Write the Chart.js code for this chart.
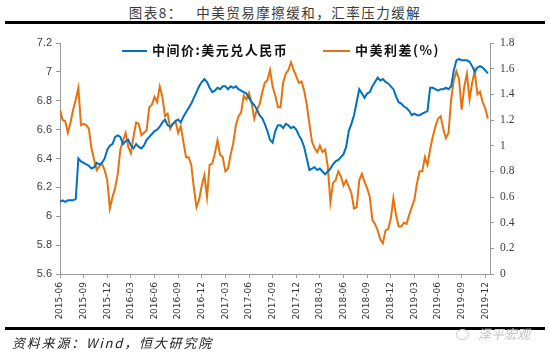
<!DOCTYPE html>
<html>
<head>
<meta charset="utf-8">
<script src="https://cdn.jsdelivr.net/npm/chart.js@4.4.1/dist/chart.umd.min.js"></script>
<style>
  html, body { margin: 0; padding: 0; background: #fff; }
  body { width: 550px; height: 359px; position: relative; overflow: hidden; font-family: "Noto Sans CJK SC", sans-serif; }
  #title { position: absolute; left: 0; width: 550px; top: 3px; text-align: center; font-size: 13.5px; color: #3a3a3a; letter-spacing: 1.5px; line-height: 18px; white-space: pre; }
  .rule { position: absolute; left: 5px; width: 540px; background: #000; }
  #wrap { position: absolute; left: 0; top: 0; width: 550px; height: 330px; }
  .lg-line { position: absolute; height: 2px; }
  .lg-text { position: absolute; font-size: 13px; font-weight: bold; color: #111; line-height: 16px; letter-spacing: 1.5px; white-space: nowrap; }
  #src { position: absolute; left: 12px; top: 334px; font-size: 13px; font-style: italic; color: #222; letter-spacing: 1.8px; white-space: nowrap; line-height: 18px; }
  #wm { position: absolute; left: 478px; top: 325px; font-size: 13px; color: #c4c4c4; white-space: nowrap; font-style: italic; line-height: 18px; }
  #wmicon { position: absolute; left: 456px; top: 329px; width: 11px; height: 9px; border: 1.5px solid #d0d0d0; border-radius: 50%; }
</style>
</head>
<body>
<div id="title">图表8：   中美贸易摩擦缓和，汇率压力缓解</div>
<div class="rule" style="top:21px;height:3px"></div>
<div id="wrap"><canvas id="c"></canvas></div>
<div class="lg-line" style="left:122px;top:50px;width:25px;background:#0070C0"></div>
<div class="lg-text" style="left:152px;top:42px">中间价:美元兑人民币</div>
<div class="lg-line" style="left:323px;top:50px;width:27px;background:#E8720C"></div>
<div class="lg-text" style="left:355px;top:42px">中美利差(%)</div>
<div class="rule" style="top:327px;height:3px"></div>
<div id="src">资料来源：Wind，恒大研究院</div>
<div id="wmicon"></div>
<div id="wm">泽平宏观</div>
<script>
// x tick labels (quarterly), x positions are months since 2015-06
const xTickLabels = ['2015-06','2015-09','2015-12','2016-03','2016-06','2016-09','2016-12','2017-03','2017-06','2017-09','2017-12','2018-03','2018-06','2018-09','2018-12','2019-03','2019-06','2019-09','2019-12'];
const leftTicks = [5.6, 5.8, 6, 6.2, 6.4, 6.6, 6.8, 7, 7.2];
const rightTicks = [0, 0.2, 0.4, 0.6, 0.8, 1, 1.2, 1.4, 1.6, 1.8];
const sampleStepMonths = 1 / 3; // one reading every third of a month

// 中间价:美元兑人民币
const usdcny = [
6.10,6.11,6.10,6.11,6.11,6.11,6.12,6.40,6.38,6.37,
6.36,6.35,6.33,6.34,6.37,6.36,6.37,6.40,6.46,6.49,
6.50,6.55,6.56,6.55,6.50,6.52,6.53,6.49,6.47,6.50,
6.48,6.47,6.49,6.53,6.55,6.57,6.59,6.60,6.62,6.65,
6.67,6.63,6.62,6.64,6.66,6.67,6.65,6.69,6.72,6.75,
6.78,6.82,6.86,6.90,6.93,6.95,6.93,6.89,6.86,6.87,
6.89,6.88,6.90,6.90,6.88,6.90,6.89,6.90,6.88,6.87,
6.86,6.85,6.82,6.79,6.77,6.74,6.70,6.68,6.64,6.59,
6.53,6.51,6.59,6.63,6.63,6.61,6.64,6.63,6.61,6.62,
6.60,6.56,6.53,6.48,6.40,6.32,6.33,6.34,6.32,6.33,
6.31,6.29,6.31,6.33,6.36,6.38,6.39,6.41,6.43,6.48,
6.59,6.64,6.70,6.79,6.88,6.85,6.82,6.85,6.86,6.90,
6.93,6.96,6.94,6.95,6.93,6.92,6.90,6.88,6.83,6.79,
6.78,6.76,6.75,6.73,6.70,6.71,6.70,6.70,6.71,6.72,
6.73,6.89,6.89,6.88,6.87,6.88,6.88,6.89,6.88,6.90,
7.01,7.08,7.09,7.08,7.08,7.08,7.07,7.04,7.00,7.03,
7.04,7.03,7.01,6.99
];

// 中美利差(%)
const spread = [
1.28,1.20,1.19,1.10,1.18,1.28,1.36,1.45,1.16,1.17,
1.16,1.13,0.98,0.89,0.81,0.84,0.86,0.81,0.73,0.51,
0.60,0.67,0.78,0.97,1.04,1.10,0.99,0.94,1.07,1.18,
1.17,1.08,1.10,1.12,1.30,1.32,1.38,1.34,1.46,1.38,
1.23,1.25,1.13,1.17,1.19,1.10,1.15,1.03,0.91,0.91,
0.85,0.67,0.52,0.58,0.69,0.77,0.60,0.85,0.86,0.94,
1.04,0.93,0.91,0.80,0.82,0.93,1.02,1.16,1.23,1.26,
1.39,1.36,1.41,1.33,1.21,1.28,1.32,1.41,1.49,1.51,
1.59,1.46,1.39,1.30,1.30,1.49,1.56,1.59,1.65,1.59,
1.54,1.49,1.50,1.43,1.32,1.17,1.03,0.98,0.95,1.00,
0.95,0.97,0.84,0.56,0.71,0.73,0.80,0.76,0.69,0.73,
0.68,0.63,0.51,0.52,0.73,0.78,0.72,0.67,0.60,0.42,
0.39,0.34,0.27,0.24,0.34,0.35,0.43,0.59,0.46,0.37,
0.37,0.40,0.39,0.46,0.52,0.58,0.71,0.80,0.80,0.91,
0.85,0.97,1.07,1.15,1.21,1.23,1.13,1.06,1.10,1.36,
1.51,1.58,1.52,1.28,1.46,1.56,1.36,1.49,1.58,1.40,
1.42,1.34,1.29,1.21
];

const toPoints = arr => arr.map((v, i) => ({ x: i * sampleStepMonths, y: v }));

const axisGray = '#9a9a9a';
new Chart(document.getElementById('c'), {
  type: 'line',
  data: {
    datasets: [
      { label: '中间价:美元兑人民币', data: toPoints(usdcny), yAxisID: 'yL',
        borderColor: '#0070C0', borderWidth: 2, pointRadius: 0, tension: 0, fill: false },
      { label: '中美利差(%)', data: toPoints(spread), yAxisID: 'yR',
        borderColor: '#E8720C', borderWidth: 2, pointRadius: 0, tension: 0, fill: false }
    ]
  },
  options: {
    responsive: true,
    maintainAspectRatio: false,
    animation: false,
    layout: { padding: { top: 43, left: 0, right: 0, bottom: 0 } },
    plugins: { legend: { display: false }, tooltip: { enabled: false } },
    scales: {
      x: {
        type: 'linear', min: 0, max: 54.6,
        afterBuildTicks: s => { s.ticks = xTickLabels.map((_, k) => ({ value: k * 3 })); },
        afterFit: s => { s.height = 56; },
        ticks: { autoSkip: false, minRotation: 90, maxRotation: 90, padding: 4,
          color: '#333', font: { family: 'DejaVu Sans', size: 9 },
          callback: v => xTickLabels[Math.round(v / 3)] },
        grid: { display: true, drawOnChartArea: false, drawTicks: true, tickLength: 4, color: axisGray },
        border: { display: true, color: axisGray, width: 1 }
      },
      yL: {
        position: 'left', min: 5.6, max: 7.2,
        afterBuildTicks: s => { s.ticks = leftTicks.map(v => ({ value: v })); },
        afterFit: s => { s.width = 60; },
        ticks: { padding: 4, color: '#404040', font: { family: 'Liberation Sans', size: 11 },
          callback: v => String(v) },
        grid: { display: true, drawOnChartArea: false, drawTicks: true, tickLength: 4, color: axisGray },
        border: { display: true, color: axisGray, width: 1 }
      },
      yR: {
        position: 'right', min: 0, max: 1.8,
        afterBuildTicks: s => { s.ticks = rightTicks.map(v => ({ value: v })); },
        afterFit: s => { s.width = 60; },
        ticks: { padding: 6, color: '#404040', font: { family: 'Liberation Serif', size: 11.5 },
          callback: v => String(v) },
        grid: { display: true, drawOnChartArea: false, drawTicks: true, tickLength: 4, color: axisGray },
        border: { display: true, color: axisGray, width: 1 }
      }
    }
  }
});
</script>
</body>
</html>
